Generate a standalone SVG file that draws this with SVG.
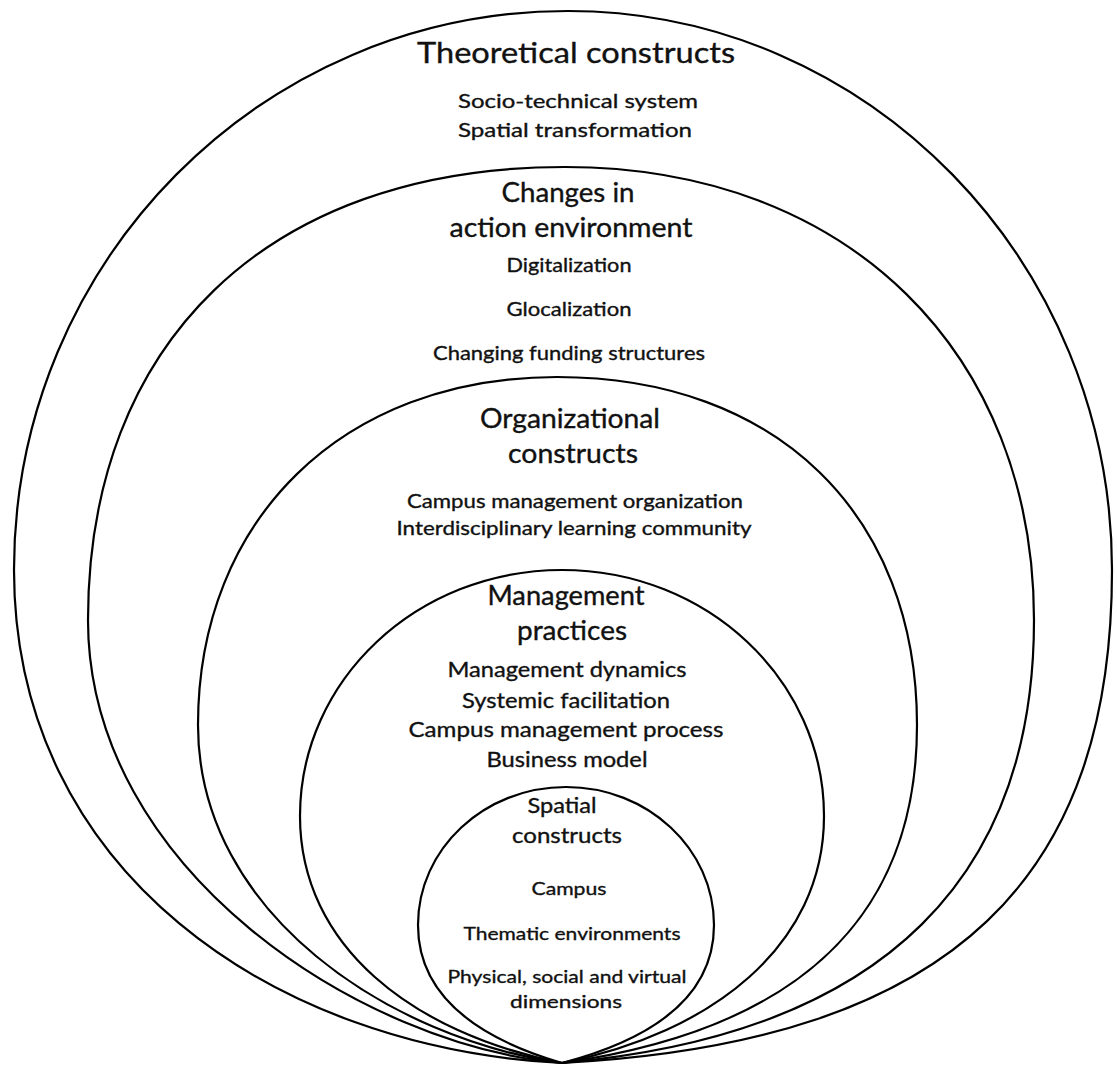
<svg xmlns="http://www.w3.org/2000/svg" width="1117" height="1065" viewBox="0 0 1117 1065">
<style>
.ring{fill:none;stroke:#000;stroke-width:2.2;stroke-linejoin:round}
text{font-family:Lato,"Open Sans","Liberation Sans",sans-serif;fill:#111;stroke:#111;stroke-width:0.35;text-anchor:middle}
.h1{font-size:29px}
.h2{font-size:26px}
.h3{font-size:21px}
.i1{font-size:20px}
.i2{font-size:19px}
.i3{font-size:21px}
.i4{font-size:18px}
</style>
<rect width="1117" height="1065" fill="#fff"/>
<g id="theoretical">
<path class="ring" d="M568,11 C868,11 1112,261 1112,570 C1112,870 962,1042 562,1063 C272,1048 14,870 14,570 C14,261 262,11 568,11 Z"/>
<text class="h1" x="576" y="63" textLength="318" lengthAdjust="spacingAndGlyphs">Theoretical constructs</text>
<text class="i1" x="578" y="108" textLength="240" lengthAdjust="spacingAndGlyphs">Socio-technical system</text>
<text class="i1" x="575" y="137" textLength="234" lengthAdjust="spacingAndGlyphs">Spatial transformation</text>
</g>
<g id="action-environment">
<path class="ring" d="M565,167 C850,167 1034,355 1034,620 C1034,870 892,1034 562,1063 C362,1046 88,870 88,620 C88,345 265,167 565,167 Z"/>
<text class="h2" x="568" y="202" textLength="133" lengthAdjust="spacingAndGlyphs">Changes in</text>
<text class="h2" x="571" y="237" textLength="243" lengthAdjust="spacingAndGlyphs">action environment</text>
<text class="i2" x="569" y="272" textLength="125" lengthAdjust="spacingAndGlyphs">Digitalization</text>
<text class="i2" x="569" y="316" textLength="125" lengthAdjust="spacingAndGlyphs">Glocalization</text>
<text class="i2" x="569" y="360" textLength="272" lengthAdjust="spacingAndGlyphs">Changing funding structures</text>
</g>
<g id="organizational">
<path class="ring" d="M557,377 C777,377 917,515 917,725 C917,915 802,1029 562,1063 C392,1039 198,915 198,725 C198,520 342,377 557,377 Z"/>
<text class="h2" x="570" y="428" textLength="180" lengthAdjust="spacingAndGlyphs">Organizational</text>
<text class="h2" x="573" y="463" textLength="130" lengthAdjust="spacingAndGlyphs">constructs</text>
<text class="i2" x="575" y="508" textLength="336" lengthAdjust="spacingAndGlyphs">Campus management organization</text>
<text class="i2" x="574" y="535" textLength="355" lengthAdjust="spacingAndGlyphs">Interdisciplinary learning community</text>
</g>
<g id="management">
<path class="ring" d="M562,570 C707,570 824,680 824,816 C824,946 712,1033 562,1063 C412,1033 300,946 300,816 C300,680 417,570 562,570 Z"/>
<text class="h2" x="566" y="605" textLength="157" lengthAdjust="spacingAndGlyphs">Management</text>
<text class="h2" x="572" y="640" textLength="110" lengthAdjust="spacingAndGlyphs">practices</text>
<text class="i3" x="567" y="677" textLength="239" lengthAdjust="spacingAndGlyphs">Management dynamics</text>
<text class="i3" x="566" y="708" textLength="208" lengthAdjust="spacingAndGlyphs">Systemic facilitation</text>
<text class="i3" x="566" y="737" textLength="315" lengthAdjust="spacingAndGlyphs">Campus management process</text>
<text class="i3" x="567" y="767" textLength="161" lengthAdjust="spacingAndGlyphs">Business model</text>
</g>
<g id="spatial">
<path class="ring" d="M566,787 C648,787 714,849 714,925 C714,995 657,1038 562,1063 C477,1038 418,995 418,925 C418,849 484,787 566,787 Z"/>
<text class="h3" x="562" y="813" textLength="69" lengthAdjust="spacingAndGlyphs">Spatial</text>
<text class="h3" x="567" y="843" textLength="110" lengthAdjust="spacingAndGlyphs">constructs</text>
<text class="i4" x="569" y="895" textLength="75" lengthAdjust="spacingAndGlyphs">Campus</text>
<text class="i4" x="572" y="940" textLength="217" lengthAdjust="spacingAndGlyphs">Thematic environments</text>
<text class="i4" x="567" y="983" textLength="239" lengthAdjust="spacingAndGlyphs">Physical, social and virtual</text>
<text class="i4" x="566" y="1008" textLength="112" lengthAdjust="spacingAndGlyphs">dimensions</text>
</g>
<g id="connectors"/>
</svg>
